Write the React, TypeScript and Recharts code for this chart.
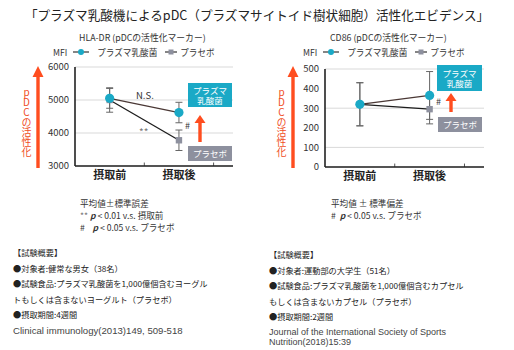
import React from "react";
import { LineChart, Line, XAxis, YAxis, CartesianGrid, ErrorBar, ReferenceLine } from "recharts";

const categories = ["摂取前", "摂取後"];

const hlaPlasma = [5050, 4620];
const hlaPlasmaErr = [300, 310];
const hlaPlacebo = [5000, 3780];
const hlaPlaceboErr = [370, 310];
const hlaTicks = [3000, 4000, 5000, 6000];

const cdPlasma = [320, 365];
const cdPlasmaErr = [110, 122];
const cdPlacebo = [320, 295];
const cdPlaceboErr = [110, 75];
const cdTicks = [0, 100, 200, 300, 400, 500];

const FONT = '"Noto Sans CJK JP", "Noto Sans", sans-serif';
const CYAN = "#1aa9c6";
const GRAY = "#8d909e";
const ORANGE = "#ff4d1f";
const DARK = "#222";

const build = (a: number[], ae: number[], b: number[], be: number[]) =>
  categories.map((name, i) => ({ name, x: i + 0.5, plasma: a[i], pe: ae[i], placebo: b[i], be: be[i] }));

const hlaData = build(hlaPlasma, hlaPlasmaErr, hlaPlacebo, hlaPlaceboErr);
const cdData = build(cdPlasma, cdPlasmaErr, cdPlacebo, cdPlaceboErr);

const CircleDot = (p: any) =>
  p.cx == null ? null : <circle key={`c${p.index}`} cx={p.cx} cy={p.cy} r={4.6} fill={CYAN} />;
const SquareDot = (p: any) =>
  p.cx == null ? null : <rect key={`s${p.index}`} x={p.cx - 3.2} y={p.cy - 3.2} width={6.4} height={6.4} fill={GRAY} />;

const fmtCat = (v: number) => categories[Math.floor(v)] ?? "";

function Panel({ data, ticks, margin, xh }: { data: any[]; ticks: number[]; margin: any; xh: number }) {
  const lo = ticks[0];
  const hi = ticks[ticks.length - 1];
  const tk = lo + (hi - lo) * 0.035;
  return (
    <LineChart width={257} height={185} data={data} margin={margin}>
      <CartesianGrid vertical={false} stroke="#d9d9d9" strokeWidth={1} />
      <XAxis
        dataKey="x"
        type="number"
        domain={[0, 2.28]}
        ticks={[0.5, 1.5]}
        tickFormatter={fmtCat}
        tickLine={false}
        tickSize={0}
        tickMargin={5}
        height={xh}
        axisLine={{ stroke: DARK, strokeWidth: 1.6 }}
        tick={{ fill: DARK, fontSize: 11, fontWeight: 700, fontFamily: FONT }}
      />
      <YAxis
        type="number"
        domain={[lo, hi]}
        ticks={ticks}
        width={30}
        tickLine={false}
        tickSize={4}
        tickMargin={2}
        axisLine={{ stroke: DARK, strokeWidth: 1.6 }}
        tick={{ fill: "#333", fontSize: 9.5, fontFamily: FONT }}
      />
      <ReferenceLine segment={[{ x: 1, y: lo }, { x: 1, y: tk }]} stroke="#555" strokeWidth={1} />
      <ReferenceLine segment={[{ x: 2, y: lo }, { x: 2, y: tk }]} stroke="#555" strokeWidth={1} />
      <Line dataKey="placebo" stroke="#1c1c1c" strokeWidth={1.3} dot={SquareDot} activeDot={false} isAnimationActive={false}>
        <ErrorBar dataKey="be" width={3.5} stroke="#666" strokeWidth={1} direction="y" isAnimationActive={false} />
      </Line>
      <Line dataKey="plasma" stroke="#4a3835" strokeWidth={1.3} dot={CircleDot} activeDot={false} isAnimationActive={false}>
        <ErrorBar dataKey="pe" width={3.5} stroke="#666" strokeWidth={1} direction="y" isAnimationActive={false} />
      </Line>
    </LineChart>
  );
}

const abs = (x: number, y: number, extra: React.CSSProperties = {}): React.CSSProperties => ({
  position: "absolute",
  left: x,
  top: y,
  whiteSpace: "nowrap",
  ...extra,
});

function Legend({ x, y }: { x: number; y: number }) {
  return (
    <div style={abs(x, y, { fontSize: 8.6, color: "#333", display: "flex", alignItems: "center", lineHeight: "10px" })}>
      <span style={{ marginRight: 6 }}>MFI</span>
      <svg width={16} height={8} style={{ marginRight: 8 }}>
        <line x1={0} y1={4} x2={16} y2={4} stroke="#333" strokeWidth={1.2} />
        <circle cx={8} cy={4} r={3} fill={CYAN} />
      </svg>
      <span style={{ marginRight: 8 }}>プラズマ乳酸菌</span>
      <svg width={12} height={8} style={{ marginRight: 3 }}>
        <line x1={0} y1={4} x2={12} y2={4} stroke="#333" strokeWidth={1.2} />
        <rect x={3.5} y={1.5} width={5} height={5} fill={GRAY} />
      </svg>
      <span>プラセボ</span>
    </div>
  );
}

function BigArrow({ x, label }: { x: number; label: number }) {
  return (
    <>
      <svg style={abs(x - 7, 64)} width={14} height={106}>
        <polygon points="7,2 1.5,13 5.3,13 5.3,104 8.7,104 8.7,13 12.5,13" fill={ORANGE} />
      </svg>
      <div
        style={abs(label - 7, 87, {
          width: 14,
          writingMode: "vertical-rl",
          textOrientation: "upright",
          fontSize: 10,
          lineHeight: "14px",
          color: "#f04e26",
        })}
      >
        pDCの活性化
      </div>
    </>
  );
}

function SmallArrow({ x, top, bottom }: { x: number; top: number; bottom: number }) {
  const h = bottom - top;
  return (
    <svg style={abs(x - 6, top)} width={12} height={h}>
      <polygon points={`6,0 0.5,8 4.3,8 4.3,${h} 7.7,${h} 7.7,8 11.5,8`} fill={ORANGE} />
    </svg>
  );
}

function Box({ x, y, w, h, color, lines }: { x: number; y: number; w: number; h: number; color: string; lines: string[] }) {
  return (
    <div
      style={abs(x, y, {
        width: w,
        height: h,
        background: color,
        color: "#fff",
        fontSize: 8.5,
        lineHeight: "10.5px",
        display: "flex",
        flexDirection: "column",
        alignItems: "center",
        justifyContent: "center",
      })}
    >
      {lines.map((l) => (
        <span key={l}>{l}</span>
      ))}
    </div>
  );
}

const noteStyle: React.CSSProperties = { fontSize: 8.6, color: "#333", lineHeight: "12px" };
const rowStyle: React.CSSProperties = { height: 15.6, fontSize: 8.2, color: "#222", lineHeight: "15.6px", overflow: "visible" };
const citeStyle: React.CSSProperties = { fontSize: 9.6, color: "#444", lineHeight: "10px", fontFamily: '"Liberation Sans", sans-serif' };

function Rows({ x, y, rows }: { x: number; y: number; rows: string[] }) {
  return (
    <div style={abs(x, y)}>
      {rows.map((r, i) => (
        <div key={i} style={rowStyle}>{r}</div>
      ))}
    </div>
  );
}

export default function App() {
  return (
    <div style={{ position: "absolute", left: 0, top: 0, width: 514, height: 350, background: "#fff", fontFamily: FONT, overflow: "hidden" }}>
      <div style={abs(0, 6, { width: 514, textAlign: "center", fontSize: 12.6, color: "#222", lineHeight: "18px" })}>
        「プラズマ乳酸機によるpDC（プラズマサイトイド樹状細胞）活性化エビデンス」
      </div>

      <div style={abs(0, 0)}>
        <Panel data={hlaData} ticks={hlaTicks} margin={{ top: 67, right: 24, bottom: 0, left: 45 }} xh={19} />
      </div>
      <div style={abs(257, 0)}>
        <Panel data={cdData} ticks={cdTicks} margin={{ top: 69, right: 30, bottom: 0, left: 38 }} xh={18} />
      </div>

      <div style={abs(79, 32, { fontSize: 8.8, color: "#333", lineHeight: "12px" })}>HLA-DR (pDCの活性化マーカー)</div>
      <div style={abs(330, 32, { fontSize: 8.8, color: "#333", lineHeight: "12px" })}>CD86 (pDCの活性化マーカー)</div>
      <Legend x={53} y={47} />
      <Legend x={303} y={47} />

      <BigArrow x={38} label={26} />
      <BigArrow x={293} label={281} />

      <div style={abs(136, 89, { fontSize: 9.5, color: "#333", lineHeight: "12px" })}>N.S.</div>
      <div style={abs(139, 126, { fontSize: 10, color: "#777", lineHeight: "12px" })}>**</div>
      <div style={abs(185, 120, { fontSize: 9, color: "#333", lineHeight: "12px" })}>#</div>
      <Box x={188} y={83} w={44} h={24} color={CYAN} lines={["プラズマ", "乳酸菌"]} />
      <SmallArrow x={200} top={115} bottom={142} />
      <Box x={188} y={146} w={44} h={15} color={GRAY} lines={["プラセボ"]} />

      <div style={abs(436, 96, { fontSize: 9, color: "#333", lineHeight: "12px" })}>#</div>
      <Box x={437} y={65} w={45} h={26} color={CYAN} lines={["プラズマ", "乳酸菌"]} />
      <SmallArrow x={451} top={93} bottom={112} />
      <Box x={438} y={117} w={44} h={15} color={GRAY} lines={["プラセボ"]} />

      <div style={abs(80, 197, noteStyle)}>
        <div>平均値±標準誤差</div>
        <div>
          <span style={{ color: "#777" }}>**</span>{" "}
          <b><i>p</i></b> &lt; 0.01 v.s. 摂取前
        </div>
        <div>
          #&nbsp;&nbsp;&nbsp; <b><i>p</i></b> &lt; 0.05 v.s. プラセボ
        </div>
      </div>
      <div style={abs(331, 197, noteStyle)}>
        <div>平均値 ± 標準偏差</div>
        <div>
          # &nbsp;<b><i>p</i></b> &lt; 0.05 v.s. プラセボ
        </div>
      </div>

      <Rows
        x={13}
        y={245}
        rows={["【試験概要】", "●対象者:健常な男女（38名）", "●試験食品:プラズマ乳酸菌を1,000億個含むヨーグル", "トもしくは含まないヨーグルト（プラセボ）", "●摂取期間:4週間"]}
      />
      <div style={abs(13, 326, citeStyle)}>Clinical immunology(2013)149, 509-518</div>

      <Rows
        x={269}
        y={247}
        rows={["【試験概要】", "●対象者:運動部の大学生（51名）", "●試験食品:プラズマ乳酸菌を1,000億個含むカプセル", "もしくは含まないカプセル（プラセボ）", "●摂取期間:2週間"]}
      />
      <div style={abs(269, 327, citeStyle)}>
        <div style={{ fontSize: 9 }}>Journal of the International Society of Sports</div>
        <div style={{ fontSize: 9 }}>Nutrition(2018)15:39</div>
      </div>
    </div>
  );
}
